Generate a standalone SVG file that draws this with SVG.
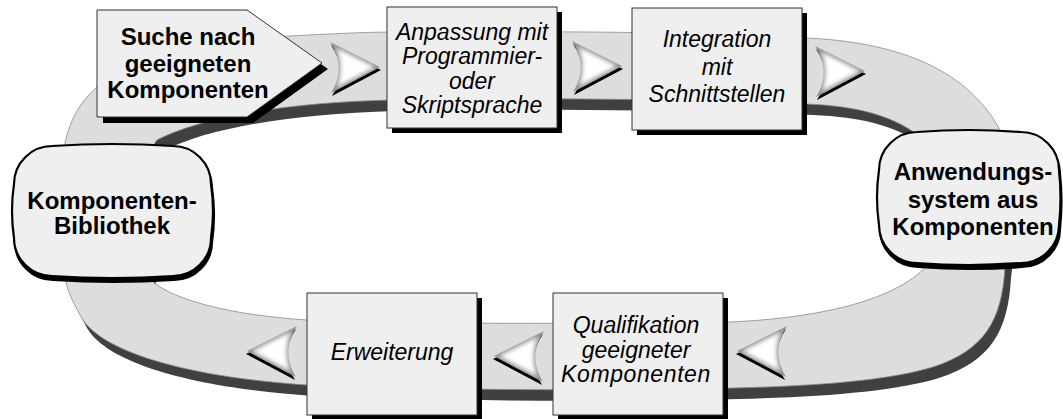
<svg xmlns="http://www.w3.org/2000/svg" xmlns:xlink="http://www.w3.org/1999/xlink" width="1063" height="419" viewBox="0 0 1063 419">
<style>
.band{fill:#dddddd;stroke:#8a8a8a;stroke-width:0.8;fill-rule:evenodd}
.bandShadow{fill:#404040;fill-rule:evenodd}
.box{fill:#efefef;stroke:#333333;stroke-width:1}
.shadow{fill:#000000}
.rbox{fill:#efefef;stroke:#000000;stroke-width:2.2}
.rshadow{fill:#000000;stroke:#000000;stroke-width:2.2}
.b{font-family:"Liberation Sans",Arial,sans-serif;font-weight:bold;font-size:24px;fill:#000;text-anchor:middle}
.i{font-family:"Liberation Sans",Arial,sans-serif;font-style:italic;font-size:23px;fill:#000;text-anchor:middle}
</style>
<defs>
<filter id="bevel" x="-30%" y="-30%" width="160%" height="170%">
<feOffset in="SourceAlpha" dx="0.6" dy="3" result="off"/>
<feFlood flood-color="#000000" result="blk"/>
<feComposite in="blk" in2="off" operator="in" result="sh"/>
<feFlood flood-color="#959595" result="g"/>
<feComposite in="g" in2="SourceAlpha" operator="in" result="gs"/>
<feMorphology in="SourceAlpha" operator="erode" radius="2.2" result="er"/>
<feGaussianBlur in="er" stdDeviation="2" result="bl"/>
<feFlood flood-color="#ffffff" result="w"/>
<feComposite in="w" in2="bl" operator="in" result="wi"/>
<feComposite in="wi" in2="SourceAlpha" operator="in" result="wc"/>
<feMerge><feMergeNode in="sh"/><feMergeNode in="gs"/><feMergeNode in="wc"/></feMerge>
</filter>
<path id="chev" d="M 25,0 L -24,26 Q -8,0 -25,-25 Z" fill="#cccccc"/>
</defs>

<g id="ring">
<path class="bandShadow" transform="translate(6,11)" d="M 66,282 C 62,240 60,180 65,143 C 70,118 82,100 97,87 C 130,55 180,40 270,37 C 330,34 360,32 400,32 C 560,31 700,32 807,38 C 890,42 965,65 1000,130 C 1012,170 1010,230 1005,267 C 1002,320 985,350 933,367 C 890,380 820,386 733,388 C 600,391 420,390 307,385 C 200,378 100,355 80,315 C 72,300 68,292 66,282 Z M 153,282 C 175,300 230,315 307,320 C 400,324 600,324 730,322 C 820,318 900,300 930,262 C 950,230 950,170 915,133 C 890,115 855,106 807,104 C 650,98 500,98 390,100 C 280,103 200,118 157,140 C 140,160 138,240 153,282 Z"/>
<path class="band" d="M 66,282 C 62,240 60,180 65,143 C 70,118 82,100 97,87 C 130,55 180,40 270,37 C 330,34 360,32 400,32 C 560,31 700,32 807,38 C 890,42 965,65 1000,130 C 1012,170 1010,230 1005,267 C 1002,320 985,350 933,367 C 890,380 820,386 733,388 C 600,391 420,390 307,385 C 200,378 100,355 80,315 C 72,300 68,292 66,282 Z M 153,282 C 175,300 230,315 307,320 C 400,324 600,324 730,322 C 820,318 900,300 930,262 C 950,230 950,170 915,133 C 890,115 855,106 807,104 C 650,98 500,98 390,100 C 280,103 200,118 157,140 C 140,160 138,240 153,282 Z"/>
</g>

<g id="connectors">
<use xlink:href="#chev" href="#chev" filter="url(#bevel)" transform="translate(355,67)"/>
<use xlink:href="#chev" href="#chev" filter="url(#bevel)" transform="translate(597,66)"/>
<use xlink:href="#chev" href="#chev" filter="url(#bevel)" transform="translate(840,71)"/>
<use xlink:href="#chev" href="#chev" filter="url(#bevel)" transform="translate(762,351) scale(-1,1)"/>
<use xlink:href="#chev" href="#chev" filter="url(#bevel)" transform="translate(519,356) scale(-1,1)"/>
<use xlink:href="#chev" href="#chev" filter="url(#bevel)" transform="translate(272,351) scale(-1,1)"/>
</g>

<g id="suche">
<path class="shadow" d="M 103,16 L 253,16 L 328,69 L 253,123 L 103,123 Z"/>
<path class="box" d="M 97,10 L 247,10 L 322,63 L 247,117 L 97,117 Z"/>
<text class="b" x="188" y="45">Suche nach</text>
<text class="b" x="188" y="71.5">geeigneten</text>
<text class="b" x="188" y="98">Komponenten</text>
</g>

<g id="anpassung">
<rect class="shadow" x="392" y="12" width="170" height="121"/>
<rect class="box" x="387" y="7" width="170" height="121"/>
<text class="i" x="472" y="40">Anpassung mit</text>
<text class="i" x="472" y="64.3">Programmier-</text>
<text class="i" x="472" y="88.7">oder</text>
<text class="i" x="472" y="113">Skriptsprache</text>
</g>

<g id="integration">
<rect class="shadow" x="637" y="13" width="170" height="122"/>
<rect class="box" x="632" y="8" width="170" height="122"/>
<text class="i" x="717" y="47">Integration</text>
<text class="i" x="717" y="74.5">mit</text>
<text class="i" x="717" y="102">Schnittstellen</text>
</g>

<g id="anwendungssystem">
<path class="rshadow" transform="translate(1,4)" d="M 917,132 Q 969,128 1021,132 C 1041.9,132 1059,149.1 1059,170 Q 1062,197.5 1059,225 C 1059,245.9 1041.9,263 1021,263 Q 969,267 917,263 C 896.1,263 879,245.9 879,225 Q 875,197.5 879,170 C 879,149.1 896.1,132 917,132 Z"/>
<path class="rbox" d="M 917,132 Q 969,128 1021,132 C 1041.9,132 1059,149.1 1059,170 Q 1062,197.5 1059,225 C 1059,245.9 1041.9,263 1021,263 Q 969,267 917,263 C 896.1,263 879,245.9 879,225 Q 875,197.5 879,170 C 879,149.1 896.1,132 917,132 Z"/>
<text class="b" x="973" y="180">Anwendungs-</text>
<text class="b" x="973" y="207.5">system aus</text>
<text class="b" x="973" y="235">Komponenten</text>
</g>

<g id="bibliothek">
<path class="rshadow" transform="translate(1,4)" d="M 52,146 Q 112.5,142 173,146 C 193.9,146 211,163.1 211,184 Q 215,211 211,238 C 211,258.9 193.9,276 173,276 Q 112.5,280 52,276 C 31.1,276 14,258.9 14,238 Q 10,211 14,184 C 14,163.1 31.1,146 52,146 Z"/>
<path class="rbox" d="M 52,146 Q 112.5,142 173,146 C 193.9,146 211,163.1 211,184 Q 215,211 211,238 C 211,258.9 193.9,276 173,276 Q 112.5,280 52,276 C 31.1,276 14,258.9 14,238 Q 10,211 14,184 C 14,163.1 31.1,146 52,146 Z"/>
<text class="b" x="112" y="209">Komponenten-</text>
<text class="b" x="112" y="234">Bibliothek</text>
</g>

<g id="erweiterung">
<rect class="shadow" x="312" y="298" width="170" height="122"/>
<rect class="box" x="307" y="293" width="170" height="122"/>
<text class="i" x="392" y="360">Erweiterung</text>
</g>

<g id="qualifikation">
<rect class="shadow" x="558" y="298" width="170" height="122"/>
<rect class="box" x="553" y="293" width="170" height="122"/>
<text class="i" x="636" y="333">Qualifikation</text>
<text class="i" x="636" y="358">geeigneter</text>
<text class="i" x="636" y="382" letter-spacing="0.6">Komponenten</text>
</g>
</svg>
